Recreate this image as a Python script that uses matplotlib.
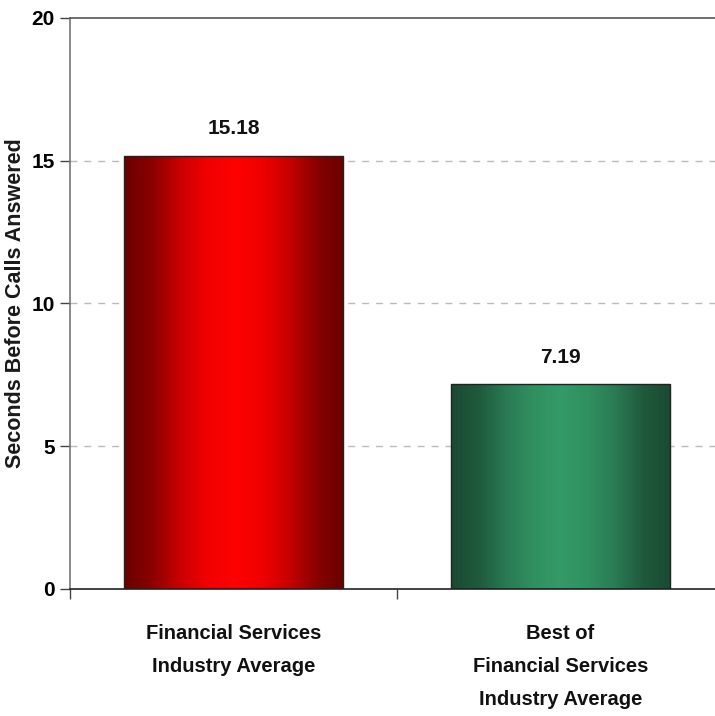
import numpy as np
import matplotlib
matplotlib.use("Agg")
import matplotlib.pyplot as plt
from matplotlib.colors import LinearSegmentedColormap

categories = ["Financial Services\nIndustry Average",
              "Best of\nFinancial Services\nIndustry Average"]
values = [15.18, 7.19]
value_labels = ["15.18", "7.19"]
yticks = [0, 5, 10, 15, 20]

red_cmap = LinearSegmentedColormap.from_list(
    "r", ["#6a0000", "#8a0000", "#c80000", "#f00000", "#ff0000",
          "#f00000", "#c80000", "#8a0000", "#6a0000"])
green_cmap = LinearSegmentedColormap.from_list(
    "g", ["#1a4a32", "#1f5a3c", "#2a7a54", "#30905f", "#349a68",
          "#30905f", "#2a7a54", "#1f5a3c", "#1a4a32"])
cmaps = [red_cmap, green_cmap]

font = ["Liberation Sans", "DejaVu Sans"]

fig = plt.figure(figsize=(7.15, 7.16), dpi=100)
ax = fig.add_axes([0.0979, 0.1774, 0.9147, 0.7975])

x = np.arange(len(values))
bars = ax.bar(x, values, width=0.67, color="none", edgecolor="#222222",
              linewidth=1.0, zorder=3)

grad = np.linspace(0, 1, 256).reshape(1, -1)
for b, cm in zip(bars, cmaps):
    x0, y0 = b.get_x(), b.get_y()
    im = ax.imshow(grad, cmap=cm, aspect="auto",
                   extent=[x0, x0 + b.get_width(), y0, y0 + b.get_height()],
                   zorder=2)
    im.set_clip_path(b)

for xi, v, lab in zip(x, values, value_labels):
    ax.text(xi, v + 0.6, lab, ha="center", va="bottom", fontsize=15,
            fontweight="bold", family=font, color="#111111")

ax.set_xlim(-0.5, 1.5)
ax.set_ylim(0, 20)
ax.set_yticks(yticks)
ax.set_yticklabels([str(t) for t in yticks], fontsize=15, fontweight="bold",
                   family=font)
ax.set_xticks([-0.5, 0.5, 1.5])
ax.set_xticklabels([])
ax.tick_params(axis="y", length=7, width=1, color="#444444", pad=4)
ax.tick_params(axis="x", length=7, width=1, color="#444444", direction="out")

for yv in [5, 10, 15]:
    ax.axhline(yv, color="#bbbbbb", linestyle=(0, (5, 5)), linewidth=1, zorder=1)

ax.spines["right"].set_visible(False)
ax.spines["left"].set_color("#777777")
ax.spines["top"].set_color("#555555")
ax.spines["bottom"].set_color("#222222")
for s in ax.spines.values():
    s.set_linewidth(1.2)

for xi, cat in zip(x, categories):
    ax.text(xi, -1.22, cat, ha="center", va="top", fontsize=14.5,
            fontweight="bold", family=font, linespacing=1.95,
            color="#111111")

fig.text(0.022, 0.577, "Seconds Before Calls Answered", rotation=90,
         ha="center", va="center", fontsize=15.5, fontweight="bold",
         family=font, color="#1a1a1a")

fig.savefig("out.png", dpi=100)
